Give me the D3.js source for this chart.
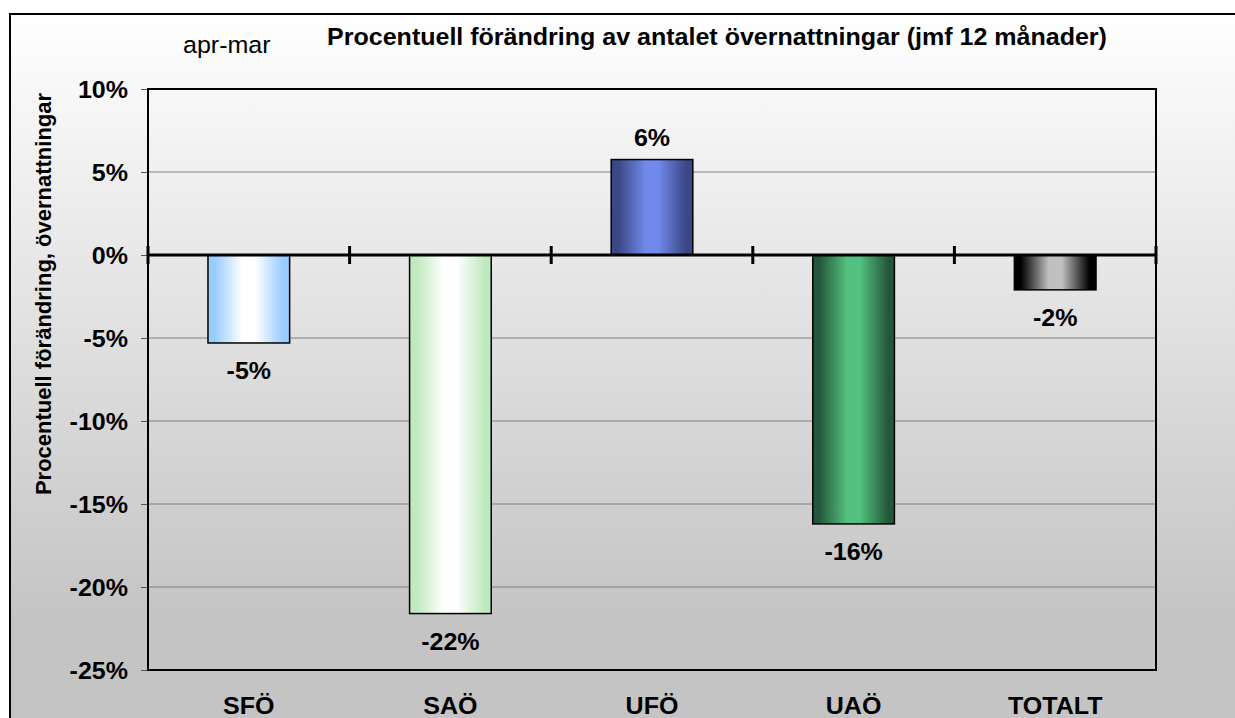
<!DOCTYPE html>
<html>
<head>
<meta charset="utf-8">
<title>Procentuell förändring</title>
<script src="https://cdn.jsdelivr.net/npm/d3@7"></script>
<style>
  body { margin: 0; background: #fff; }
  text { font-family: "Liberation Sans", Arial, sans-serif; }
</style>
</head>
<body>
<svg width="1235" height="718" id="mainsvg"></svg>
<script>
// data
const categories = ['SFÖ', 'SAÖ', 'UFÖ', 'UAÖ', 'TOTALT'];
const values = [-5.3, -21.6, 5.75, -16.2, -2.1];
const yTicks = [10, 5, 0, -5, -10, -15, -20, -25];
// edge / centre colours of each bar's gradient
const edgeColors = ['#99ccff', '#bfe9bf', '#3a4784', '#24573a', '#000000'];
const centerColors = ['#ffffff', '#ffffff', '#7189ea', '#53c17f', '#c0c0c0'];

const svg = d3.select('svg');
const width = +svg.attr('width');
const height = +svg.attr('height');
const plot = { left: 148, top: 89, right: 1156, bottom: 670 };
const sx = 1.065; // the original is a bit stretched horizontally
const fs = 23.5;
const pct = d => Math.round(d) + '%'; // plain hyphen minus, like the original

const defs = svg.append('defs');
const bg = defs.append('linearGradient').attr('id', 'bg')
  .attr('gradientUnits', 'userSpaceOnUse')
  .attr('x1', 0).attr('y1', 14).attr('x2', 0).attr('y2', 620);
bg.append('stop').attr('offset', 0).attr('stop-color', '#ffffff');
bg.append('stop').attr('offset', 1).attr('stop-color', '#c4c4c4');

categories.forEach((c, i) => {
  const g = defs.append('linearGradient').attr('id', 'bar' + i)
    .attr('x1', 0).attr('y1', 0).attr('x2', 1).attr('y2', 0);
  [[0, edgeColors[i]], [0.08, edgeColors[i]], [0.42, centerColors[i]], [0.58, centerColors[i]], [0.92, edgeColors[i]], [1, edgeColors[i]]]
    .forEach(s => g.append('stop').attr('offset', s[0]).attr('stop-color', s[1]));
});

// chart frame (cut off on the right and bottom in the original)
svg.append('rect').attr('x', 10).attr('y', 14).attr('width', 1300).attr('height', 800)
  .attr('fill', 'url(#bg)').attr('stroke', '#000').attr('stroke-width', 2);

const x = d3.scaleBand().domain(categories).range([plot.left, plot.right])
  .paddingInner(0.595).paddingOuter(0.2975);
const y = d3.scaleLinear().domain([-25, 10]).range([plot.bottom, plot.top]);

// gridlines
svg.append('g').selectAll('line').data(yTicks.filter(d => d !== 0 && d !== 10 && d !== -25)).join('line')
  .attr('x1', plot.left).attr('x2', plot.right)
  .attr('y1', d => y(d)).attr('y2', d => y(d))
  .attr('stroke', '#808080').attr('stroke-width', 1);

// y axis
const yAxis = svg.append('g').attr('transform', `translate(${plot.left},0)`)
  .call(d3.axisLeft(y).tickValues(yTicks).tickFormat(pct).tickSize(7).tickPadding(12));
yAxis.select('.domain').remove();
yAxis.selectAll('.tick line').attr('stroke', '#555').attr('stroke-width', 1);
yAxis.selectAll('.tick text')
  .attr('font-size', fs).attr('font-weight', 'bold').attr('fill', '#000')
  .attr('dy', '0.36em')
  .attr('transform', 'scale(' + sx + ',1)')
  .attr('x', -20 / sx);

// plot border
svg.append('rect').attr('x', plot.left).attr('y', plot.top)
  .attr('width', plot.right - plot.left).attr('height', plot.bottom - plot.top)
  .attr('fill', 'none').attr('stroke', '#000').attr('stroke-width', 2);

// bars
svg.append('g').selectAll('rect').data(values).join('rect')
  .attr('x', (d, i) => x(categories[i]))
  .attr('width', x.bandwidth())
  .attr('y', d => y(Math.max(0, d)))
  .attr('height', d => Math.abs(y(d) - y(0)))
  .attr('fill', (d, i) => `url(#bar${i})`)
  .attr('stroke', '#000').attr('stroke-width', 1.5);

// zero line with category separator ticks
svg.append('line').attr('x1', plot.left).attr('x2', plot.right)
  .attr('y1', y(0)).attr('y2', y(0)).attr('stroke', '#000').attr('stroke-width', 3);
const seps = categories.map(c => x(c) - x.step() * x.paddingInner() / 2).concat([plot.right]);
svg.append('g').selectAll('line').data(seps).join('line')
  .attr('x1', d => d).attr('x2', d => d)
  .attr('y1', y(0) - 9).attr('y2', y(0) + 9)
  .attr('stroke', '#000').attr('stroke-width', 3);

// value labels
svg.append('g').selectAll('text').data(values).join('text')
  .attr('transform', (d, i) => {
    const ty = d >= 0 ? y(d) - 14 : y(d) + 36;
    return `translate(${x(categories[i]) + x.bandwidth() / 2},${ty}) scale(${sx},1)`;
  })
  .attr('text-anchor', 'middle').attr('font-size', fs).attr('font-weight', 'bold')
  .text(pct);

// category labels
svg.append('g').selectAll('text').data(categories).join('text')
  .attr('transform', d => `translate(${x(d) + x.bandwidth() / 2},714) scale(${sx},1)`)
  .attr('text-anchor', 'middle').attr('font-size', fs).attr('font-weight', 'bold')
  .text(d => d);

// titles
svg.append('text').attr('transform', `translate(717,45) scale(${sx},1)`)
  .attr('text-anchor', 'middle').attr('font-size', fs).attr('font-weight', 'bold')
  .text('Procentuell förändring av antalet övernattningar (jmf 12 månader)');
svg.append('text').attr('transform', `translate(183,53) scale(${sx},1)`)
  .attr('font-size', fs)
  .text('apr-mar');
svg.append('text').attr('transform', 'translate(51,294) rotate(-90)')
  .attr('text-anchor', 'middle').attr('font-size', 22).attr('font-weight', 'bold')
  .text('Procentuell förändring, övernattningar');
</script>
</body>
</html>
